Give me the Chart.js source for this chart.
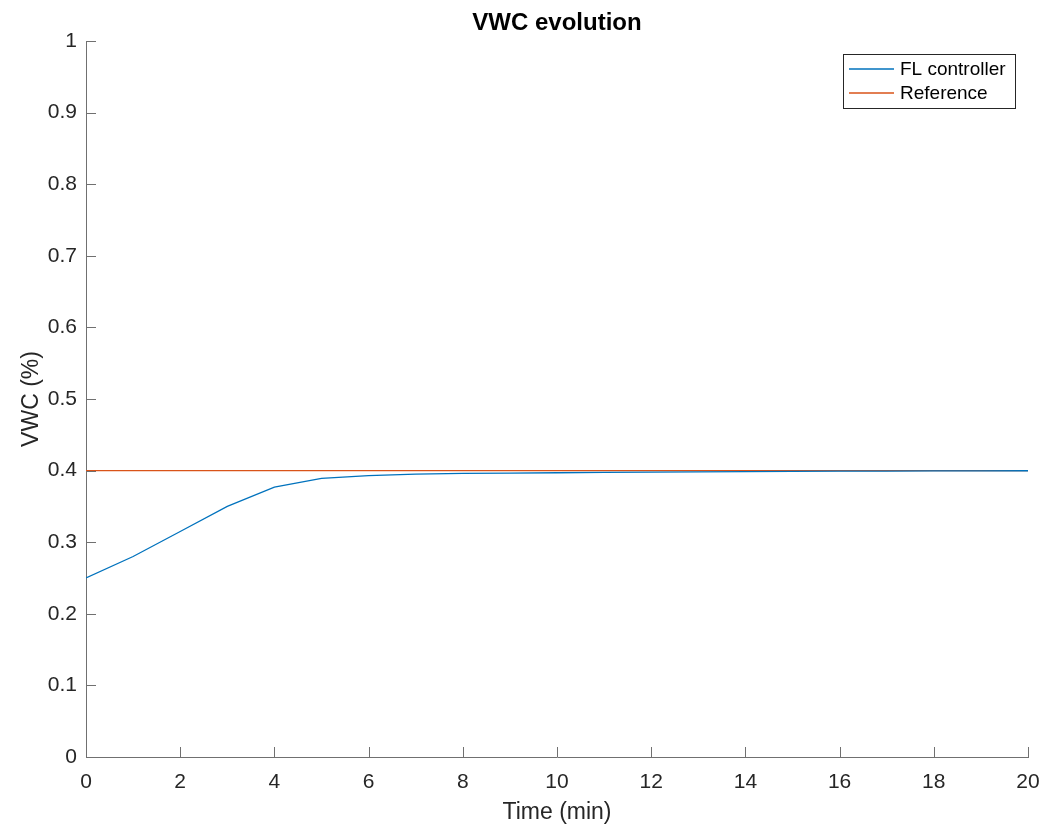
<!DOCTYPE html>
<html>
<head>
<meta charset="utf-8">
<title>VWC evolution</title>
<script src="https://cdn.jsdelivr.net/npm/chart.js@4.4.1/dist/chart.umd.min.js"></script>
<style>
  html, body { margin: 0; padding: 0; background: #fff; }
  #wrap { width: 1058px; height: 827px; }
</style>
</head>
<body>
<div id="wrap"><canvas id="vwcChart"></canvas></div>
<script>
// time in minutes
const timeMin = [0, 1, 2, 3, 4, 5, 6, 7, 8, 9, 10, 11, 12, 13, 14, 15, 16, 17, 18, 19, 20];
// FL controller response
const flController = [0.25, 0.28, 0.315, 0.35, 0.377, 0.389, 0.393, 0.395, 0.396, 0.3965, 0.397,
                      0.3975, 0.398, 0.3983, 0.3987, 0.399, 0.3992, 0.3994, 0.3996, 0.3997, 0.3998];
// set point
const referenceVwc = [0.4, 0.4, 0.4, 0.4, 0.4, 0.4, 0.4, 0.4, 0.4, 0.4, 0.4,
                      0.4, 0.4, 0.4, 0.4, 0.4, 0.4, 0.4, 0.4, 0.4, 0.4];
const xTicks = [0, 2, 4, 6, 8, 10, 12, 14, 16, 18, 20];
const yTicks = [0, 0.1, 0.2, 0.3, 0.4, 0.5, 0.6, 0.7, 0.8, 0.9, 1];
const chartTitle = 'VWC evolution';

const axisColor = '#707070';
const textColor = '#262626';
const fontFamily = '"Liberation Sans", Arial, Helvetica, sans-serif';

function toPoints(xs, ys) {
    return xs.map((x, i) => ({ x: x, y: ys[i] }));
}

// matlab-style ticks pointing into the plot
const innerTicks = {
    id: 'innerTicks',
    afterDatasetsDraw(chart) {
        const ctx = chart.ctx;
        const area = chart.chartArea;
        const len = 10;
        ctx.save();
        ctx.strokeStyle = axisColor;
        ctx.lineWidth = 1;
        ctx.beginPath();
        chart.scales.x.ticks.forEach(t => {
            const px = Math.round(chart.scales.x.getPixelForValue(t.value)) + 0.5;
            ctx.moveTo(px, area.bottom);
            ctx.lineTo(px, area.bottom - len);
        });
        chart.scales.y.ticks.forEach(t => {
            const py = Math.round(chart.scales.y.getPixelForValue(t.value)) + 0.5;
            ctx.moveTo(area.left, py);
            ctx.lineTo(area.left + len, py);
        });
        ctx.stroke();
        ctx.restore();
    }
};

// title centred over the plot area, not the canvas
const areaTitle = {
    id: 'areaTitle',
    afterDraw(chart) {
        const ctx = chart.ctx;
        const area = chart.chartArea;
        ctx.save();
        ctx.font = 'bold 24px ' + fontFamily;
        ctx.fillStyle = '#000';
        ctx.textAlign = 'center';
        ctx.textBaseline = 'middle';
        ctx.fillText(chartTitle, (area.left + area.right) / 2, 23);
        ctx.restore();
    }
};

// legend box in the upper right corner
const boxLegend = {
    id: 'boxLegend',
    afterDraw(chart) {
        const ctx = chart.ctx;
        const area = chart.chartArea;
        const sets = chart.data.datasets;
        const w = 172, rowH = 24;
        const h = 54;
        const left = Math.round(area.right - 13 - w);
        const top = Math.round(area.top + 13);
        ctx.save();
        ctx.fillStyle = '#fff';
        ctx.fillRect(left, top, w, h);
        ctx.strokeStyle = '#262626';
        ctx.lineWidth = 1;
        ctx.strokeRect(left + 0.5, top + 0.5, w, h);
        ctx.font = '19px ' + fontFamily;
        ctx.textBaseline = 'middle';
        ctx.textAlign = 'left';
        sets.forEach((ds, i) => {
            const cy = top + 15 + i * rowH;
            ctx.strokeStyle = ds.borderColor;
            ctx.lineWidth = 1.3;
            ctx.beginPath();
            ctx.moveTo(left + 6, cy);
            ctx.lineTo(left + 51, cy);
            ctx.stroke();
            ctx.fillStyle = '#000';
            ctx.fillText(ds.label, left + 57, cy + 1);
        });
        ctx.restore();
    }
};

new Chart(document.getElementById('vwcChart'), {
    type: 'line',
    data: {
        datasets: [{
            label: 'FL controller',
            data: toPoints(timeMin, flController),
            borderColor: '#0072BD',
            borderWidth: 1.3,
            pointRadius: 0,
            tension: 0,
            fill: false
        }, {
            label: 'Reference',
            data: toPoints(timeMin, referenceVwc),
            borderColor: '#D95319',
            borderWidth: 1.3,
            pointRadius: 0,
            tension: 0,
            fill: false
        }]
    },
    options: {
        responsive: true,
        maintainAspectRatio: false,
        animation: false,
        layout: { padding: { left: 0, right: 30, top: 41, bottom: 0 } },
        plugins: {
            legend: { display: false },
            tooltip: { enabled: false },
            title: { display: false }
        },
        scales: {
            x: {
                type: 'linear',
                min: 0,
                max: 20,
                afterBuildTicks: s => { s.ticks = xTicks.map(v => ({ value: v })); },
                afterFit: s => { s.height = 70; },
                grid: { display: false, drawTicks: false },
                border: { display: true, color: axisColor, width: 1 },
                ticks: {
                    color: textColor,
                    padding: 13,
                    maxRotation: 0,
                    font: { family: fontFamily, size: 21 }
                },
                title: {
                    display: true,
                    text: 'Time (min)',
                    color: textColor,
                    font: { family: fontFamily, size: 23 },
                    padding: { top: 0, bottom: 1 }
                }
            },
            y: {
                type: 'linear',
                min: 0,
                max: 1,
                afterBuildTicks: s => { s.ticks = yTicks.map(v => ({ value: v })); },
                afterFit: s => { s.width = 86; },
                grid: { display: false, drawTicks: false },
                border: { display: true, color: axisColor, width: 1 },
                ticks: {
                    color: textColor,
                    padding: 9,
                    font: { family: fontFamily, size: 21 },
                    callback: v => String(Math.round(v * 10) / 10)
                },
                title: {
                    display: true,
                    text: 'VWC (%)',
                    color: textColor,
                    font: { family: fontFamily, size: 23 },
                    padding: { top: 18, bottom: 0 }
                }
            }
        }
    },
    plugins: [innerTicks, areaTitle, boxLegend]
});
</script>
</body>
</html>
